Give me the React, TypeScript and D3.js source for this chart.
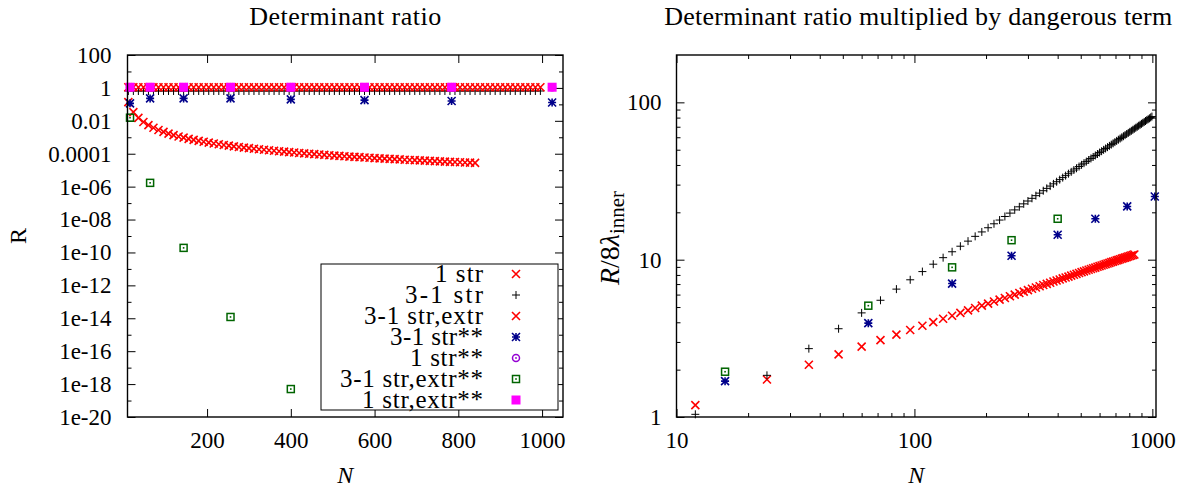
import { useEffect, useRef } from 'react';
import * as d3 from 'd3';

// N values of the dense series (N = 12, 24, ... 996)
const nStep12 = [
  12, 24, 36, 48, 60, 72, 84, 96, 108, 120,
  132, 144, 156, 168, 180, 192, 204, 216, 228, 240,
  252, 264, 276, 288, 300, 312, 324, 336, 348, 360,
  372, 384, 396, 408, 420, 432, 444, 456, 468, 480,
  492, 504, 516, 528, 540, 552, 564, 576, 588, 600,
  612, 624, 636, 648, 660, 672, 684, 696, 708, 720,
  732, 744, 756, 768, 780, 792, 804, 816, 828, 840,
  852, 864, 876, 888, 900, 912, 924, 936, 948, 960,
  972, 984, 996,
];
// N values of the sparse series (squares)
const nSquares = [16, 64, 144, 256, 400, 576, 784, 1024];

// ---- left panel: determinant ratio R ----
const oneStrR = [
  0.136, 0.034, 0.0151, 0.0085, 0.00544, 0.00378, 0.00278, 0.00213, 0.00168, 0.00136,
  0.00112, 0.000945, 0.000805, 0.000694, 0.000605, 0.000532, 0.000471, 0.00042, 0.000377, 0.00034,
  0.000309, 0.000281, 0.000257, 0.000236, 0.000218, 0.000201, 0.000187, 0.000174, 0.000162, 0.000151,
  0.000142, 0.000133, 0.000125, 0.000118, 0.000111, 0.000105, 0.0000994, 0.0000943, 0.0000895, 0.0000851,
  0.000081, 0.0000772, 0.0000736, 0.0000703, 0.0000672, 0.0000643, 0.0000616, 0.0000591, 0.0000567, 0.0000544,
  0.0000523, 0.0000503, 0.0000485, 0.0000467, 0.000045, 0.0000434, 0.0000419, 0.0000405, 0.0000391, 0.0000378,
  0.0000366, 0.0000354, 0.0000343, 0.0000332, 0.0000322, 0.0000312, 0.0000303, 0.0000294, 0.0000286, 0.0000278,
];
const threeOneStrR = [
  0.65, 0.65, 0.65, 0.65, 0.65, 0.65, 0.65, 0.65, 0.65, 0.65,
  0.65, 0.65, 0.65, 0.65, 0.65, 0.65, 0.65, 0.65, 0.65, 0.65,
  0.65, 0.65, 0.65, 0.65, 0.65, 0.65, 0.65, 0.65, 0.65, 0.65,
  0.65, 0.65, 0.65, 0.65, 0.65, 0.65, 0.65, 0.65, 0.65, 0.65,
  0.65, 0.65, 0.65, 0.65, 0.65, 0.65, 0.65, 0.65, 0.65, 0.65,
  0.65, 0.65, 0.65, 0.65, 0.65, 0.65, 0.65, 0.65, 0.65, 0.65,
  0.65, 0.65, 0.65, 0.65, 0.65, 0.65, 0.65, 0.65, 0.65, 0.65,
  0.65, 0.65, 0.65, 0.65, 0.65, 0.65, 0.65, 0.65, 0.65, 0.65,
  0.65, 0.65, 0.65,
];
const threeOneStrExtrR = [
  1.1, 1.1, 1.1, 1.1, 1.1, 1.1, 1.1, 1.1, 1.1, 1.1,
  1.1, 1.1, 1.1, 1.1, 1.1, 1.1, 1.1, 1.1, 1.1, 1.1,
  1.1, 1.1, 1.1, 1.1, 1.1, 1.1, 1.1, 1.1, 1.1, 1.1,
  1.1, 1.1, 1.1, 1.1, 1.1, 1.1, 1.1, 1.1, 1.1, 1.1,
  1.1, 1.1, 1.1, 1.1, 1.1, 1.1, 1.1, 1.1, 1.1, 1.1,
  1.1, 1.1, 1.1, 1.1, 1.1, 1.1, 1.1, 1.1, 1.1, 1.1,
  1.1, 1.1, 1.1, 1.1, 1.1, 1.1, 1.1, 1.1, 1.1, 1.1,
  1.1, 1.1, 1.1, 1.1, 1.1, 1.1, 1.1, 1.1, 1.1, 1.1,
  1.1, 1.1, 1.1,
];
const threeOneStrStarR = [0.115, 0.23, 0.23, 0.23, 0.2, 0.18, 0.16, 0.13];
const oneStrStarR = [1.1, 1.1, 1.1, 1.1, 1.1, 1.1, 1.1, 1.1];
const threeOneStrExtrStarR = [0.0155, 1.7e-6, 1.9e-10, 1.2e-14, 5e-19];
const oneStrExtrStarR = [1.1, 1.1, 1.1, 1.1, 1.1, 1.1, 1.1, 1.1];

// ---- right panel: R / 8 lambda_inner ----
const oneStrScaled = [
  1.19, 1.73, 2.15, 2.5, 2.8, 3.08, 3.34, 3.57, 3.8, 4.01,
  4.21, 4.4, 4.59, 4.76, 4.93, 5.1, 5.26, 5.42, 5.57, 5.71,
  5.86, 6.0, 6.14, 6.27, 6.4, 6.53, 6.66, 6.78, 6.9, 7.02,
  7.14, 7.26, 7.37, 7.48, 7.6, 7.7, 7.81, 7.92, 8.02, 8.13,
  8.23, 8.33, 8.43, 8.53, 8.63, 8.72, 8.82, 8.91, 9.01, 9.1,
  9.19, 9.28, 9.37, 9.46, 9.55, 9.64, 9.72, 9.81, 9.89, 9.98,
  10.06, 10.15, 10.23, 10.31, 10.39, 10.47, 10.55, 10.63, 10.71, 10.79,
];
const threeOneStrScaled = [
  1.04, 1.84, 2.72, 3.64, 4.59, 5.52, 6.5, 7.45, 8.4, 9.36,
  10.3, 11.23, 12.18, 13.12, 14.07, 15.01, 15.96, 16.91, 17.86, 18.82,
  19.77, 20.72, 21.68, 22.64, 23.6, 24.55, 25.52, 26.48, 27.44, 28.4,
  29.37, 30.34, 31.3, 32.27, 33.24, 34.21, 35.19, 36.16, 37.14, 38.11,
  39.09, 40.07, 41.05, 42.03, 43.01, 43.99, 44.98, 45.96, 46.95, 47.94,
  48.93, 49.92, 50.91, 51.9, 52.9, 53.89, 54.89, 55.89, 56.89, 57.89,
  58.89, 59.89, 60.9, 61.9, 62.91, 63.91, 64.92, 65.93, 66.94, 67.96,
  68.97, 69.98, 71.0, 72.02, 73.04, 74.05, 75.08, 76.1, 77.12, 78.14,
  79.17, 80.2, 81.22,
];
const threeOneStrStarScaled = [1.69, 3.95, 7.05, 10.6, 14.4, 18.2, 21.8, 25.2];
const threeOneStrExtrStarScaled = [1.94, 5.1, 8.94, 13.3, 18.2];

const legendLabels = ['1 str', '3-1 str', '3-1 str,extr', '3-1 str**', '1 str**', '3-1 str,extr**', '1 str,extr**'];
const legendWidths = [48, 78, 119, 93, 73, 143, 121];

const leftYTicks = [1e2, 1, 1e-2, 1e-4, 1e-6, 1e-8, 1e-10, 1e-12, 1e-14, 1e-16, 1e-18, 1e-20];
const leftYTickLabels = ['100', '1', '0.01', '0.0001', '1e-06', '1e-08', '1e-10', '1e-12', '1e-14', '1e-16', '1e-18', '1e-20'];
const leftYMinor = [1e1, 1e-1, 1e-3, 1e-5, 1e-7, 1e-9, 1e-11, 1e-13, 1e-15, 1e-17, 1e-19];
const leftXTicks = [200, 400, 600, 800, 1000];

const rightXTicks = [10, 100, 1000];
const rightXMinor = [20, 30, 40, 50, 60, 70, 80, 90, 200, 300, 400, 500, 600, 700, 800, 900];
const rightYTicks = [1, 10, 100];
const rightYMinor = [2, 3, 4, 5, 6, 7, 8, 9, 20, 30, 40, 50, 60, 70, 80, 90];

const FONT = "'Liberation Serif', 'Times New Roman', 'DejaVu Serif', serif";
const width = 1190;
const height = 488;
const top = 55;
const bottom = 417;
const left1 = 127.5;
const right1 = 563;
const left2 = 676.5;
const right2 = 1156;

type Pt = { n: number; v: number };
type Kind = 'cross' | 'plus' | 'star' | 'boxDot' | 'circleDot' | 'box';
type G = d3.Selection<SVGGElement, unknown, null, undefined>;

const S = 4;
const crossPath = `M${-S},${-S}L${S},${S}M${-S},${S}L${S},${-S}`;
const plusPath = `M${-S},0H${S}M0,${-S}V${S}`;

const pts = (ns: number[], vs: number[]): Pt[] => vs.map((v, i) => ({ n: ns[i], v }));

function addMarker(sel: d3.Selection<SVGGElement, any, any, any>, kind: Kind, color: string) {
  if (kind === 'cross' || kind === 'plus' || kind === 'star') {
    const d = kind === 'cross' ? crossPath : kind === 'plus' ? plusPath : crossPath + plusPath;
    sel.append('path')
      .attr('d', d)
      .attr('fill', 'none')
      .attr('stroke', color)
      .attr('stroke-width', kind === 'plus' ? 1 : 1.6);
  } else if (kind === 'boxDot') {
    sel.append('rect').attr('x', -3.5).attr('y', -3.5).attr('width', 7).attr('height', 7)
      .attr('fill', 'none').attr('stroke', color).attr('stroke-width', 1.5);
    sel.append('rect').attr('x', -0.8).attr('y', -0.8).attr('width', 1.6).attr('height', 1.6).attr('fill', color);
  } else if (kind === 'circleDot') {
    sel.append('circle').attr('r', 3.5).attr('fill', 'none').attr('stroke', color).attr('stroke-width', 1.5);
    sel.append('circle').attr('r', 0.9).attr('fill', color);
  } else {
    sel.append('rect').attr('x', -4.5).attr('y', -4.5).attr('width', 9).attr('height', 9).attr('fill', color);
  }
}

function drawSeries(
  g: G,
  data: Pt[],
  kind: Kind,
  color: string,
  x: (n: number) => number,
  y: (v: number) => number,
) {
  const sel = g.append('g')
    .selectAll('g')
    .data(data)
    .join('g')
    .attr('transform', (d) => `translate(${x(d.n)},${y(d.v)})`);
  addMarker(sel, kind, color);
}

function styleAxis(g: G) {
  g.select('.domain').remove();
  g.attr('font-family', null).attr('font-size', null);
  g.selectAll('line').attr('stroke', '#000').attr('stroke-width', 1);
  g.selectAll('text')
    .attr('fill', '#000')
    .style('font-family', FONT)
    .style('font-size', '23px');
}

function DeterminantCharts() {
  const svgRef = useRef<SVGSVGElement | null>(null);

  useEffect(() => {
    const svg = d3.select(svgRef.current);
    svg.selectAll('*').remove();
    svg.attr('viewBox', `0,0,${width},${height}`);

    // ===== left panel =====
    const xL = d3.scaleLinear().domain([10, 1050]).range([left1, right1]);
    const yL = d3.scaleLog().domain([1e-20, 1e2]).range([bottom, top]);
    const gl = svg.append<SVGGElement>('g');

    gl.append<SVGGElement>('g').attr('transform', `translate(${left1},0)`)
      .call(d3.axisLeft(yL).tickValues(leftYTicks).tickSize(-8).tickPadding(16)
        .tickFormat((_d, i) => leftYTickLabels[i]))
      .call(styleAxis);
    gl.append<SVGGElement>('g').attr('transform', `translate(${left1},0)`)
      .call(d3.axisLeft(yL).tickValues(leftYMinor).tickSize(-4).tickFormat(() => ''))
      .call(styleAxis);
    gl.append<SVGGElement>('g').attr('transform', `translate(${right1},0)`)
      .call(d3.axisRight(yL).tickValues(leftYTicks).tickSize(-8).tickFormat(() => ''))
      .call(styleAxis);
    gl.append<SVGGElement>('g').attr('transform', `translate(${right1},0)`)
      .call(d3.axisRight(yL).tickValues(leftYMinor).tickSize(-4).tickFormat(() => ''))
      .call(styleAxis);
    gl.append<SVGGElement>('g').attr('transform', `translate(0,${bottom})`)
      .call(d3.axisBottom(xL).tickValues(leftXTicks).tickSize(-8).tickPadding(15).tickFormat(d3.format('d')))
      .call(styleAxis);
    gl.append<SVGGElement>('g').attr('transform', `translate(0,${top})`)
      .call(d3.axisTop(xL).tickValues(leftXTicks).tickSize(-8).tickFormat(() => ''))
      .call(styleAxis);

    drawSeries(gl, pts(nStep12, oneStrR), 'cross', '#ff0000', xL, yL);
    drawSeries(gl, pts(nStep12, threeOneStrR), 'plus', '#000000', xL, yL);
    drawSeries(gl, pts(nStep12, threeOneStrExtrR), 'cross', '#ff0000', xL, yL);
    drawSeries(gl, pts(nSquares, threeOneStrStarR), 'star', '#00008b', xL, yL);
    drawSeries(gl, pts(nSquares, oneStrStarR), 'circleDot', '#9400d3', xL, yL);
    drawSeries(gl, pts(nSquares, threeOneStrExtrStarR), 'boxDot', '#006400', xL, yL);
    drawSeries(gl, pts(nSquares, oneStrExtrStarR), 'box', '#ff00ff', xL, yL);

    gl.append('rect')
      .attr('x', left1).attr('y', top)
      .attr('width', right1 - left1).attr('height', bottom - top)
      .attr('fill', 'none').attr('stroke', '#000').attr('stroke-width', 1.4);

    // legend
    const legendKinds: Kind[] = ['cross', 'plus', 'cross', 'star', 'circleDot', 'boxDot', 'box'];
    const legendColors = ['#ff0000', '#000000', '#ff0000', '#00008b', '#9400d3', '#006400', '#ff00ff'];
    const legend = gl.append('g');
    legend.append('rect')
      .attr('x', 321).attr('y', 264).attr('width', 237).attr('height', 146)
      .attr('fill', '#fff').attr('stroke', '#000').attr('stroke-width', 1);
    legendLabels.forEach((label, i) => {
      const row = legend.append<SVGGElement>('g').attr('transform', `translate(0,${274 + i * 21})`);
      row.append('text')
        .attr('x', 483).attr('dy', '0.32em')
        .attr('text-anchor', 'end')
        .attr('textLength', legendWidths[i]).attr('lengthAdjust', 'spacing')
        .style('font-size', '25px')
        .text(label);
      const m = row.append<SVGGElement>('g').attr('transform', 'translate(516,0)');
      addMarker(m, legendKinds[i], legendColors[i]);
    });

    gl.append('text')
      .attr('x', (left1 + right1) / 2).attr('y', 25)
      .attr('text-anchor', 'middle')
      .attr('textLength', 192).attr('lengthAdjust', 'spacing')
      .style('font-size', '26px')
      .text('Determinant ratio');
    gl.append('text')
      .attr('transform', 'translate(26,236) rotate(-90)')
      .attr('text-anchor', 'middle')
      .style('font-size', '24px')
      .text('R');
    gl.append('text')
      .attr('x', (left1 + right1) / 2).attr('y', 483)
      .attr('text-anchor', 'middle')
      .style('font-size', '24px').style('font-style', 'italic')
      .text('N');

    // ===== right panel =====
    const xR = d3.scaleLog().domain([10, 1036]).range([left2, right2]);
    const yR = d3.scaleLog().domain([1, 200]).range([bottom, top]);
    const gr = svg.append<SVGGElement>('g');

    gr.append<SVGGElement>('g').attr('transform', `translate(${left2},0)`)
      .call(d3.axisLeft(yR).tickValues(rightYTicks).tickSize(-8).tickPadding(15).tickFormat(d3.format('d')))
      .call(styleAxis);
    gr.append<SVGGElement>('g').attr('transform', `translate(${left2},0)`)
      .call(d3.axisLeft(yR).tickValues(rightYMinor).tickSize(-4).tickFormat(() => ''))
      .call(styleAxis);
    gr.append<SVGGElement>('g').attr('transform', `translate(${right2},0)`)
      .call(d3.axisRight(yR).tickValues(rightYTicks).tickSize(-8).tickFormat(() => ''))
      .call(styleAxis);
    gr.append<SVGGElement>('g').attr('transform', `translate(${right2},0)`)
      .call(d3.axisRight(yR).tickValues(rightYMinor).tickSize(-4).tickFormat(() => ''))
      .call(styleAxis);
    gr.append<SVGGElement>('g').attr('transform', `translate(0,${bottom})`)
      .call(d3.axisBottom(xR).tickValues(rightXTicks).tickSize(-8).tickPadding(15).tickFormat(d3.format('d')))
      .call(styleAxis);
    gr.append<SVGGElement>('g').attr('transform', `translate(0,${bottom})`)
      .call(d3.axisBottom(xR).tickValues(rightXMinor).tickSize(-4).tickFormat(() => ''))
      .call(styleAxis);
    gr.append<SVGGElement>('g').attr('transform', `translate(0,${top})`)
      .call(d3.axisTop(xR).tickValues(rightXTicks).tickSize(-8).tickFormat(() => ''))
      .call(styleAxis);
    gr.append<SVGGElement>('g').attr('transform', `translate(0,${top})`)
      .call(d3.axisTop(xR).tickValues(rightXMinor).tickSize(-4).tickFormat(() => ''))
      .call(styleAxis);

    drawSeries(gr, pts(nStep12, oneStrScaled), 'cross', '#ff0000', xR, yR);
    drawSeries(gr, pts(nStep12, threeOneStrScaled), 'plus', '#000000', xR, yR);
    drawSeries(gr, pts(nSquares, threeOneStrStarScaled), 'star', '#00008b', xR, yR);
    drawSeries(gr, pts(nSquares, threeOneStrExtrStarScaled), 'boxDot', '#006400', xR, yR);

    gr.append('rect')
      .attr('x', left2).attr('y', top)
      .attr('width', right2 - left2).attr('height', bottom - top)
      .attr('fill', 'none').attr('stroke', '#000').attr('stroke-width', 1.4);

    gr.append('text')
      .attr('x', (left2 + right2) / 2 + 2).attr('y', 25)
      .attr('text-anchor', 'middle')
      .attr('textLength', 508).attr('lengthAdjust', 'spacing')
      .style('font-size', '26px')
      .text('Determinant ratio multiplied by dangerous term');

    const yl = gr.append('text')
      .attr('transform', 'translate(619,238) rotate(-90)')
      .attr('text-anchor', 'middle')
      .style('font-size', '28px');
    yl.append('tspan').style('font-style', 'italic').text('R');
    yl.append('tspan').text('/8');
    yl.append('tspan').style('font-style', 'italic').text('λ');
    yl.append('tspan').style('font-size', '21px').attr('dy', 5).text('inner');

    gr.append('text')
      .attr('x', (left2 + right2) / 2).attr('y', 483)
      .attr('text-anchor', 'middle')
      .style('font-size', '24px').style('font-style', 'italic')
      .text('N');
  }, []);

  return (
    <svg
      ref={svgRef}
      width={width}
      height={height}
      style={{ position: 'absolute', left: 0, top: 0, background: '#fff', fontFamily: FONT, fontSize: 23 }}
    />
  );
}

export default function App() {
  return <DeterminantCharts />;
}
